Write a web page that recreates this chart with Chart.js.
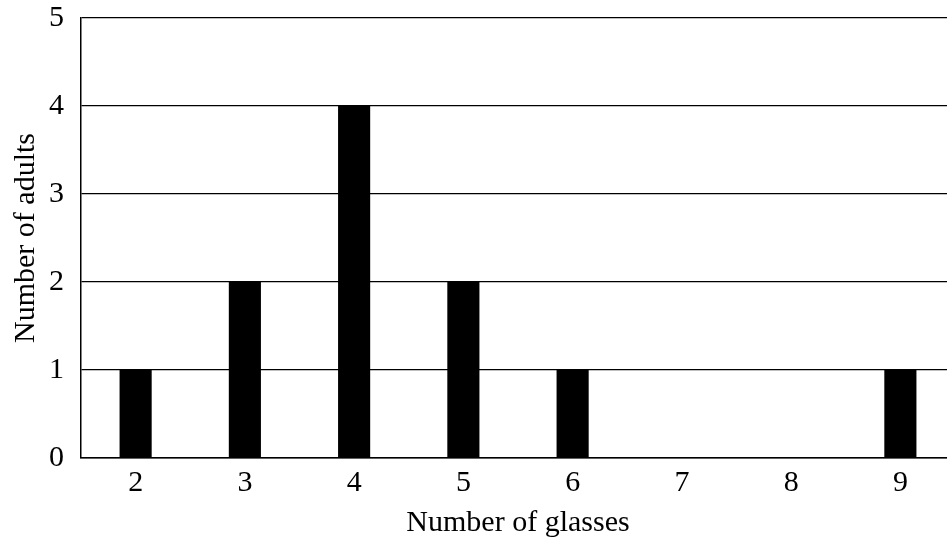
<!DOCTYPE html>
<html>
<head>
<meta charset="utf-8">
<script src="https://cdn.jsdelivr.net/npm/chart.js@4/dist/chart.umd.min.js"></script>
<style>
  html, body { margin: 0; padding: 0; background: #fff; overflow: hidden; }
  #wrap { width: 955px; height: 545px; }
</style>
</head>
<body>
<div id="wrap"><canvas id="glassChart" width="955" height="545"></canvas></div>
<script>
const glasses = ['2', '3', '4', '5', '6', '7', '8', '9'];
const adults = [1, 2, 4, 2, 1, 0, 0, 1];
const yTicks = [0, 1, 2, 3, 4, 5];

const serif = 'Liberation Serif, Times New Roman, serif';
const ctx = document.getElementById('glassChart').getContext('2d');

const chart = new Chart(ctx, {
  type: 'bar',
  data: {
    labels: glasses,
    datasets: [{
      label: 'Number of adults',
      data: adults,
      backgroundColor: '#000',
      borderWidth: 0,
      categoryPercentage: 1,
      barPercentage: 0.294
    }]
  },
  options: {
    responsive: false,
    animation: false,
    layout: { padding: { top: 18, left: 0, right: 0, bottom: 0 } },
    plugins: {
      legend: { display: false },
      tooltip: { enabled: false }
    },
    scales: {
      x: {
        grid: { display: false, drawTicks: false },
        border: { display: true, color: '#000', width: 1.5 },
        ticks: { color: '#000', font: { family: serif, size: 30 }, padding: 7 },
        title: {
          display: true,
          text: 'Number of glasses',
          color: '#000',
          font: { family: serif, size: 30 },
          padding: { top: 0 }
        },
        afterFit: scale => { scale.height = 87; }
      },
      y: {
        min: 0,
        max: 5,
        afterBuildTicks: scale => { scale.ticks = yTicks.map(v => ({ value: v })); },
        grid: { color: '#000', lineWidth: 1.2, drawTicks: false },
        border: { display: true, color: '#000', width: 1.5 },
        ticks: { color: '#000', font: { family: serif, size: 30 }, padding: 17 },
        title: {
          display: true,
          text: 'Number of adults',
          color: '#000',
          font: { family: serif, size: 30 },
          padding: { bottom: 0, top: 8 }
        },
        afterFit: scale => {
          scale.width = 81;
          scale.paddingTop = 0;
          scale.paddingBottom = 0;
        }
      }
    }
  }
});
</script>
</body>
</html>
